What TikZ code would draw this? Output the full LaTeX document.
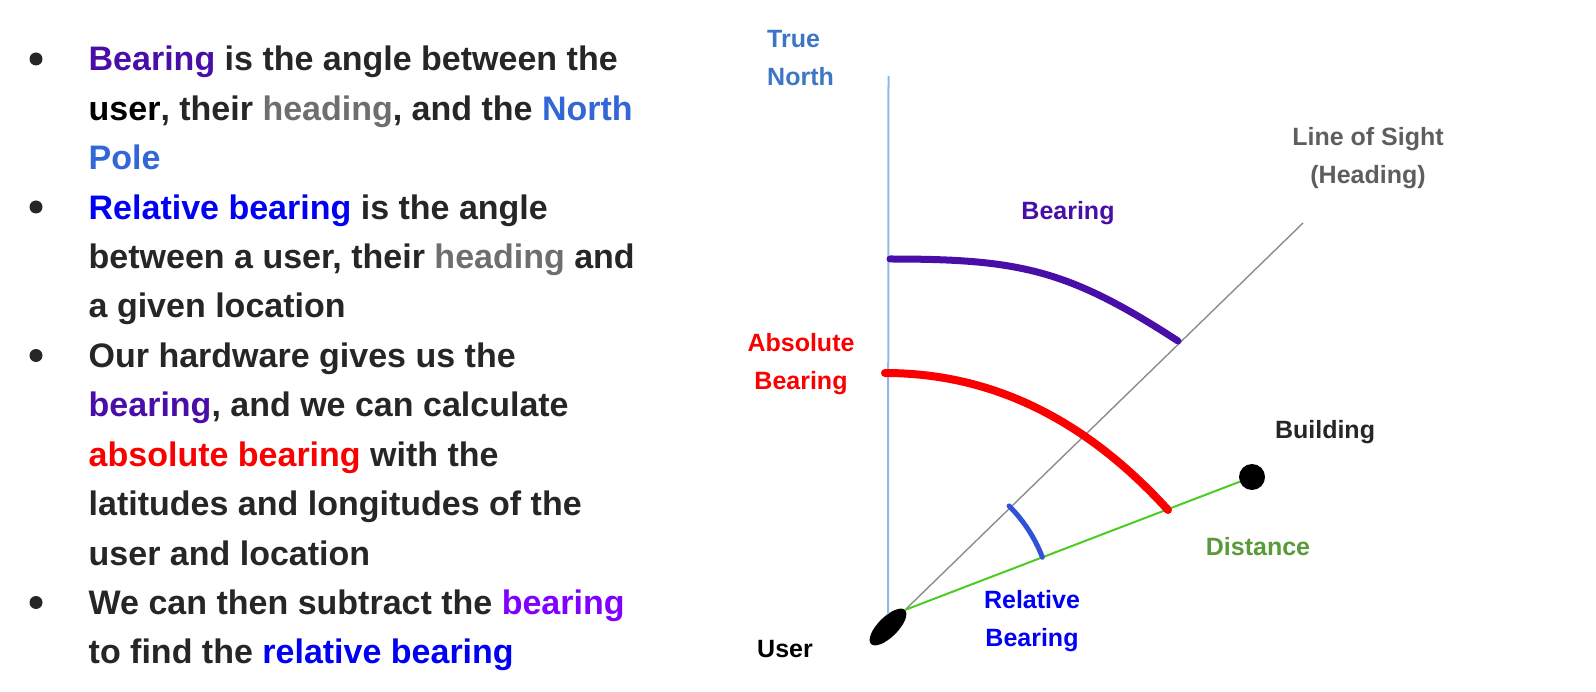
\documentclass[tikz,border=0pt]{standalone}
\usepackage{fontspec}
\setmainfont{Liberation Sans}
\usetikzlibrary{shapes.geometric,positioning}

\definecolor{textdark}{RGB}{38,38,38}
\definecolor{bearpurple}{RGB}{74,14,168}
\definecolor{headgray}{RGB}{110,110,110}
\definecolor{poleblue}{RGB}{51,102,214}
\definecolor{relblue}{RGB}{0,0,245}
\definecolor{absred}{RGB}{250,0,0}
\definecolor{violet}{RGB}{127,0,255}
\definecolor{northblue}{RGB}{61,118,196}
\definecolor{northline}{RGB}{143,184,232}
\definecolor{sightgray}{RGB}{140,140,140}
\definecolor{distgreen}{RGB}{76,204,30}
\definecolor{disttext}{RGB}{90,154,58}
\definecolor{arcblue}{RGB}{47,82,214}

\newcommand{\bear}[1]{\textcolor{bearpurple}{#1}}
\newcommand{\head}[1]{\textcolor{headgray}{#1}}
\newcommand{\pole}[1]{\textcolor{poleblue}{#1}}
\newcommand{\relb}[1]{\textcolor{relblue}{#1}}
\newcommand{\absb}[1]{\textcolor{absred}{#1}}

\tikzset{
	bullettext/.style={anchor=base west, align=left, inner sep=0, text=textdark, font=\fontsize{34}{49.4}\selectfont\bfseries},
	bulletdot/.style={circle, fill=textdark, inner sep=0, minimum size=13},
	tag/.style={align=center, inner sep=0, font=\fontsize{25}{38}\selectfont\bfseries},
	curve/.style={line width=#1, line cap=round},
}

\begin{document}
\begin{tikzpicture}[x=1pt, y=-1pt]
	\useasboundingbox (0,0) rectangle (1596,692);

	% bullet list (base anchor sits on the last line)
	\node[bulletdot] (dot1) at (36,59) {};
	\node[bulletdot] (dot2) at (36,207) {};
	\node[bulletdot] (dot3) at (36,355.5) {};
	\node[bulletdot] (dot4) at (36,602.5) {};
	\node[bullettext] (item1) at (88.5,169.8) {\bear{Bearing} is the angle between the\\\textcolor{black}{user}, their \head{heading}, and the \pole{North}\\\pole{Pole}};
	\node[bullettext] (item2) at (88.5,318) {\relb{Relative bearing} is the angle\\between a user, their \head{heading} and\\a given location};
	\node[bullettext] (item3) at (88.5,565) {Our hardware gives us the\\\bear{bearing}, and we can calculate\\\absb{absolute bearing} with the\\latitudes and longitudes of the\\user and location};
	\node[bullettext] (item4) at (88.5,663.8) {We can then subtract the \textcolor{violet}{bearing}\\to find the \relb{relative bearing}};

	% diagram
	\node[ellipse, fill=black, minimum width=48, minimum height=20, inner sep=0, rotate=45] (user) at (888,627) {};
	\node[circle, fill=black, minimum size=26, inner sep=0] (building) at (1252,477) {};
	\coordinate (north) at (888.5,76);
	\coordinate (sight) at (1303,223);

	\draw[line width=2, northline] (north) -- (user);
	\draw[line width=1.4, sightgray] (user.east) -- (sight);
	\draw[line width=2, distgreen] (user.east) -- (building);

	\draw[curve=7, bearpurple] (890,259) .. controls (1020,259) and (1068,269.5) .. (1178,341);
	\draw[curve=8, absred] (885,373) .. controls (995,373) and (1088,422) .. (1168,510);
	\draw[curve=5, arcblue] (user.east) ++(-45:147) arc[start angle=-45, end angle=-21, radius=147];

	\node[tag, align=left, text=northblue, anchor=west] (truenorth) at (767,58.5) {True\\North};
	\node[tag, text=headgray!85!black] (los) at (1368,158) {Line of Sight\\(Heading)};
	\node[tag, text=bearpurple] (bearlbl) at (1068,213) {Bearing};
	\node[tag, text=absred] (abslbl) at (801,364) {Absolute\\Bearing};
	\node[tag, text=textdark] (buildlbl) at (1325,432) {Building};
	\node[tag, text=disttext] (distlbl) at (1258,547) {Distance};
	\node[tag, text=relblue] (rellbl) at (1032,621) {Relative\\Bearing};
	\node[tag, text=black] (userlbl) at (785,649.5) {User};
\end{tikzpicture}
\end{document}
